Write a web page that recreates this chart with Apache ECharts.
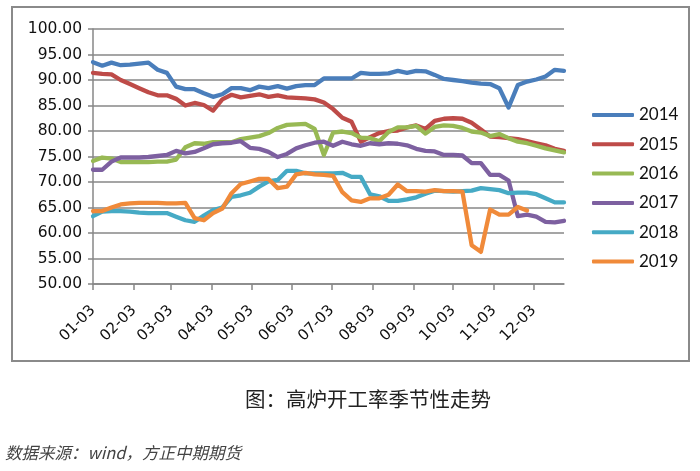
<!DOCTYPE html>
<html><head><meta charset="utf-8">
<script src="https://cdn.jsdelivr.net/npm/echarts@6/dist/echarts.min.js"></script>
<style>html,body{margin:0;padding:0;background:#fff}#c{width:700px;height:471px}</style>
</head><body><div id="c"></div>
<script>
const weeks = ['01-03','01-10','01-17','01-24','01-31','02-07','02-14','02-21','02-28','03-07','03-14','03-21','03-28','04-04','04-11','04-18','04-25','05-02','05-09','05-16','05-23','05-30','06-06','06-13','06-20','06-27','07-04','07-11','07-18','07-25','08-01','08-08','08-15','08-22','08-29','09-05','09-12','09-19','09-26','10-03','10-10','10-17','10-24','10-31','11-07','11-14','11-21','11-28','12-05','12-12','12-19','12-26'];
const tickLabels = ['01-03','02-03','03-03','04-03','05-03','06-03','07-03','08-03','09-03','10-03','11-03','12-03'];
const yTicks = [50,55,60,65,70,75,80,85,90,95,100];
const seriesNames = ['2014','2015','2016','2017','2018','2019'];
const y2014 = [93.5,92.8,93.4,92.9,93.0,93.2,93.4,92.0,91.4,88.7,88.2,88.2,87.4,86.7,87.2,88.4,88.4,88.0,88.7,88.4,88.8,88.3,88.8,89.0,89.0,90.3,90.3,90.3,90.3,91.4,91.2,91.2,91.3,91.8,91.4,91.8,91.7,91.0,90.2,90.0,89.8,89.5,89.3,89.2,88.4,84.6,89.0,89.7,90.1,90.7,92.0,91.8];
const y2015 = [91.4,91.2,91.1,90.0,89.2,88.4,87.6,87.0,87.0,86.3,85.0,85.5,85.1,84.0,86.2,87.1,86.6,86.9,87.2,86.7,87.0,86.6,86.5,86.4,86.2,85.6,84.3,82.6,81.8,77.9,78.8,79.6,80.0,80.1,80.7,81.1,80.4,82.0,82.4,82.5,82.4,81.6,80.3,78.9,78.8,78.6,78.4,78.0,77.6,77.2,76.5,76.1];
const y2016 = [74.1,74.8,74.6,73.9,73.9,73.9,73.9,74.0,74.0,74.4,76.8,77.6,77.5,77.8,77.8,77.8,78.4,78.7,79.0,79.6,80.6,81.2,81.3,81.4,80.4,75.3,79.7,79.9,79.6,78.7,78.6,78.0,79.8,80.7,80.7,81.0,79.5,80.8,81.1,81.0,80.6,79.9,79.7,79.0,79.4,78.6,77.9,77.6,77.1,76.6,76.2,75.8];
const y2017 = [72.4,72.4,74.0,74.8,74.8,74.8,74.9,75.1,75.3,76.1,75.6,75.9,76.6,77.4,77.6,77.7,78.0,76.7,76.5,75.9,74.9,75.5,76.6,77.2,77.7,77.9,77.1,77.9,77.4,77.1,77.6,77.4,77.6,77.5,77.2,76.5,76.1,76.0,75.3,75.3,75.2,73.7,73.7,71.4,71.4,70.3,63.3,63.6,63.2,62.2,62.1,62.4];
const y2018 = [63.3,64.2,64.3,64.3,64.2,64.0,63.9,63.9,63.9,63.2,62.5,62.2,63.4,64.5,65.0,67.1,67.4,67.9,69.1,70.1,70.4,72.2,72.2,71.7,71.7,71.7,71.7,71.8,71.0,71.0,67.6,67.2,66.3,66.3,66.6,67.0,67.7,68.3,68.2,68.1,68.2,68.3,68.8,68.6,68.4,67.8,67.9,67.9,67.6,66.8,66.0,66.0];
const y2019 = [64.3,64.3,65.0,65.6,65.8,65.9,65.9,65.9,65.8,65.8,65.9,62.9,62.5,63.9,64.8,67.8,69.6,70.1,70.6,70.6,68.8,69.1,71.5,71.8,71.5,71.4,71.2,68.0,66.4,66.1,66.8,66.8,67.5,69.5,68.2,68.2,68.1,68.4,68.2,68.2,68.1,57.6,56.3,64.6,63.6,63.6,65.1,64.4];
const colors = ['#4A7EBB','#BE4B48','#98B954','#7D60A0','#46AAC5','#F08A3A'];
const captionText = '图：高炉开工率季节性走势';
const sourceText = '数据来源：wind，方正中期期货';

function dayOf(md){const p=md.split('-');return (Date.UTC(2019,+p[0]-1,+p[1])-Date.UTC(2019,0,1))/86400000;}
function mdOf(day){const d=new Date(Date.UTC(2019,0,1)+day*86400000);return String(d.getUTCMonth()+1).padStart(2,'0')+'-'+String(d.getUTCDate()).padStart(2,'0');}
const tickDays = tickLabels.map(dayOf);
const allY = [y2014,y2015,y2016,y2017,y2018,y2019];

const chart = echarts.init(document.getElementById('c'), null, {renderer:'canvas'});
const gridColor = '#878787';
chart.setOption({
  animation:false,
  backgroundColor:'#fff',
  color:colors,
  grid:{left:93, top:29, width:471, height:255},
  legend:{
    orient:'vertical', left:587, top:100,
    itemWidth:42, itemHeight:4, itemGap:9.3, icon:'roundRect',
    textStyle:{fontFamily:'Lato', fontSize:17, color:'#111', lineHeight:20},
    data:seriesNames
  },
  xAxis:{
    type:'value', min:dayOf(weeks[0]), max:dayOf(weeks[weeks.length-1]),
    axisLine:{show:true, lineStyle:{color:gridColor, width:1.5}},
    axisTick:{show:true, length:6, lineStyle:{color:gridColor, width:1.5}, customValues:tickDays},
    axisLabel:{customValues:tickDays, rotate:45, margin:24, formatter:v=>mdOf(v),
      fontFamily:'DejaVu Sans', fontSize:15, color:'#111'},
    splitLine:{show:false}
  },
  yAxis:{
    type:'value', min:50, max:100, interval:5,
    axisLine:{show:true, lineStyle:{color:gridColor, width:1.5}},
    axisTick:{show:true, length:5, lineStyle:{color:gridColor, width:1.5}},
    axisLabel:{formatter:v=>v.toFixed(2), margin:11, fontFamily:'DejaVu Sans', fontSize:15.5, color:'#111'},
    splitLine:{show:true, lineStyle:{color:gridColor, width:1.5}}
  },
  series: seriesNames.map((n,i)=>({
    name:n, type:'line', showSymbol:false, symbol:'none',
    lineStyle:{width:4.3, color:colors[i], join:'round', cap:'round'},
    itemStyle:{color:colors[i]},
    data: allY[i].map((v,k)=>[dayOf(weeks[k]), v])
  })),
  graphic:[
    {type:'rect', shape:{x:12, y:7, width:677, height:354}, style:{fill:'none', stroke:'#8a8a8a', lineWidth:2}, silent:true},
    {type:'text', left:245, top:389, style:{text:captionText, fontFamily:'Noto Sans CJK SC', fontSize:20.5, fill:'#222'}, silent:true},
    {type:'text', left:5, top:444, style:{text:sourceText, fontFamily:'Noto Sans CJK SC', fontSize:16.5, fontStyle:'italic', fill:'#444'}, silent:true}
  ]
});
</script></body></html>
